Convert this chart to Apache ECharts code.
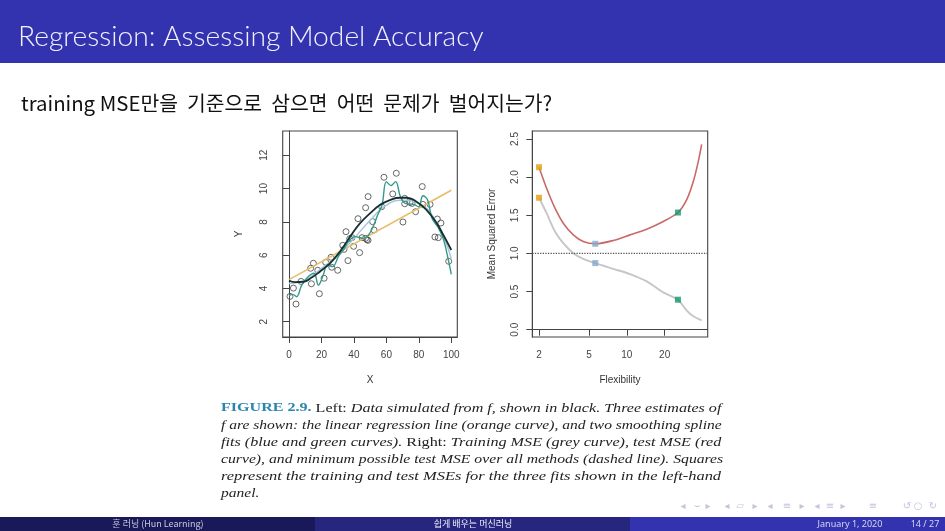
<!DOCTYPE html>
<html><head><meta charset="utf-8">
<style>html,body{margin:0;padding:0;background:#fff}
#plot,#chrome{position:absolute;left:0;top:0;width:945px;height:531px}
#plot{filter:blur(0.45px)}</style>
<script src="https://cdn.jsdelivr.net/npm/echarts@6/dist/echarts.min.js"></script>
</head><body><div id="plot"></div><div id="chrome"></div>
<script>
const titleText = 'Regression: Assessing Model Accuracy';
const subtitleText = 'training MSE만을  기준으로  삼으면  어떤  문제가  벌어지는가?';
const footerLeft = '훈 러닝 (Hun Learning)';
const footerMid = '쉽게 배우는 머신러닝';
const footerDate = 'January 1, 2020';
const footerPage = '14 / 27';
const leftXTicks = [0,20,40,60,80,100];
const leftYTicks = [2,4,6,8,10,12];
const rightXTicks = [2,5,10,20];
const rightYTicks = [0,0.5,1,1.5,2,2.5];
const points = [[0.6,3.52],[2.7,4.02],[4.3,3.06],[7.4,4.42],[13.8,4.28],[13.3,5.21],[15,5.51],[17.7,5.09],[18.7,3.68],[21.6,4.61],[22.6,5.57],[25.9,5.87],[26.3,5.27],[30,5.09],[33.1,6.59],[33.9,6.35],[35.1,7.41],[36.3,5.67],[37.4,6.99],[38.8,7.05],[39.8,6.53],[42.5,8.19],[43.5,6.15],[45,7.05],[47.2,7.01],[47.2,8.85],[48.7,9.52],[48,6.93],[48.7,6.89],[51.5,8.01],[52.4,7.51],[57.1,8.91],[58.5,10.68],[63.9,9.68],[66.1,10.92],[70.2,7.99],[71.3,9.41],[71.3,9.09],[74.5,9.17],[75.8,9.11],[78,8.61],[82.1,10.12],[82.5,9.05],[86.9,9.05],[89.9,7.09],[92,7.05],[91.4,8.17],[93.6,7.93],[98.4,5.63]];
const orangeLine = [[0,4.53],[100,9.9]];
const blueCurve = [[0,4.3],[10,4.5],[20,5.2],[30,6.0],[40,7.0],[50,8.1],[60,9.0],[70,9.3],[80,9.1],[90,8.1],[100,5.8]];
const blackCurve = [[0,4.48],[3.7,4.38],[8.8,4.4],[14,4.65],[19,5.01],[25.2,5.51],[31.4,6.21],[37.6,7.11],[43.7,7.91],[49.9,8.51],[56,9.01],[62.2,9.31],[68.4,9.45],[72.5,9.45],[78.6,9.21],[84.8,8.71],[91,7.91],[95.1,7.21],[100,6.31]];
const greenCurve = [[0,3.56],[2.3,3.64],[4.7,3.5],[7.8,4.2],[11.9,4.71],[15.4,4.91],[18.1,4.2],[21.1,4.81],[23.6,5.41],[26.9,5.31],[30.4,5.91],[33.5,6.31],[36.6,6.81],[40.7,7.11],[45.9,7.01],[49,7.21],[52.2,7.81],[54.6,8.41],[57.3,9.01],[60,10.42],[62.8,10.18],[65.7,10.42],[68.6,9.52],[71.7,9.11],[76.8,9.05],[79.9,8.91],[82.5,9.57],[85.4,9.31],[88.1,8.21],[92.2,7.61],[95.3,6.91],[98.4,5.61],[100,4.85]];
const testCurve = [[2,2.13],[2.3,1.854],[2.68,1.593],[3.12,1.396],[3.75,1.243],[4.5,1.156],[5.61,1.126],[7.8,1.169],[10.6,1.243],[14.4,1.318],[19.5,1.418],[25.5,1.536],[29.9,1.702],[33.8,1.942],[37,2.203],[39.4,2.43]];
const trainCurve = [[2,1.73],[2.3,1.527],[2.68,1.287],[3.12,1.134],[3.75,1.003],[4.5,0.929],[5.61,0.873],[7.8,0.798],[10.6,0.729],[14.4,0.633],[19.5,0.489],[25.5,0.393],[29.9,0.253],[33.8,0.175],[39.4,0.122]];
const minLine = [[1.769,1],[44,1]];
const orangeSquares = [[2,2.13],[2,1.73]];
const blueSquares = [[5.61,1.126],[5.61,0.873]];
const greenSquares = [[25.5,1.536],[25.5,0.393]];
const captionLines = [
 [['b','FIGURE 2.9.'],['r',' Left: '],['i','Data simulated from f, shown in black. Three estimates of']],
 [['i','f are shown: the linear regression line (orange curve), and two smoothing spline']],
 [['i','fits (blue and green curves). '],['r','Right: '],['i','Training MSE (grey curve), test MSE (red']],
 [['i','curve), and minimum possible test MSE over all methods (dashed line). Squares']],
 [['i','represent the training and test MSEs for the three fits shown in the left-hand']],
 [['i','panel.']]
];
const captionY = [408,425,442,459,476,493];
const captionStretch = [1.19,1.152,1.198,1.163,1.218,1.15];
const navGlyphs = ['◂','⌣','▸','◂','▱','▸','◂','≡','▸','◂','≡','▸','≡','↺','○','↻'];
const navX = [683,697,708,727,740,755,770,787,802,817,830,843,873,907,918,933];

const AXC='#444', TXT='#444';
function axisCommon(ticks,name,gap,extra){
  return Object.assign({
    name:name,nameLocation:'middle',nameGap:gap,
    nameTextStyle:{fontFamily:'Liberation Sans',fontSize:10,color:'#333'},
    axisLine:{show:true,lineStyle:{color:AXC,width:1}},
    axisTick:{show:true,length:6,customValues:ticks,lineStyle:{color:AXC,width:1}},
    axisLabel:{customValues:ticks,fontFamily:'Liberation Sans',fontSize:10,color:TXT,margin:13,hideOverlap:false,showMinLabel:true,showMaxLabel:true},
    splitLine:{show:false},minorTick:{show:false}
  },extra);
}
function ln(xi,data,color,width,smooth,z,type){
  return {type:'line',xAxisIndex:xi,yAxisIndex:xi,data:data,smooth:smooth,symbol:'none',z:z,silent:true,
    lineStyle:{color:color,width:width,type:type||'solid'}};
}
function sq(data,color){
  return {type:'scatter',xAxisIndex:1,yAxisIndex:1,data:data,symbol:'rect',symbolSize:6,z:6,silent:true,itemStyle:{color:color}};
}
const chromeEls=[
 {type:'rect',shape:{x:0,y:0,width:945,height:63},style:{fill:'#3333b0'}},
 {type:'rect',shape:{x:0,y:517,width:315,height:14},style:{fill:'#191959'}},
 {type:'rect',shape:{x:315,y:517,width:315,height:14},style:{fill:'#26267f'}},
 {type:'rect',shape:{x:630,y:517,width:315,height:14},style:{fill:'#3333b0'}},
 {type:'text',style:{x:18,y:37,text:titleText,font:'300 28.2px Lato',fill:'#f2f2ff',textVerticalAlign:'middle'}},
 {type:'text',style:{x:21,y:103,text:subtitleText,font:'20.4px "Noto Sans CJK KR"',fill:'#111',textVerticalAlign:'middle'}},
 {type:'text',style:{x:158,y:524,text:footerLeft,font:'9px "Noto Sans CJK KR"',fill:'#c8c8e0',textAlign:'center',textVerticalAlign:'middle'}},
 {type:'text',style:{x:473,y:524,text:footerMid,font:'9px "Noto Sans CJK KR"',fill:'#f0f0ff',textAlign:'center',textVerticalAlign:'middle'}},
 {type:'text',style:{x:850,y:524,text:footerDate,font:'9px "Noto Sans"',fill:'#d5d5ee',textAlign:'center',textVerticalAlign:'middle'}},
 {type:'text',style:{x:925,y:524,text:footerPage,font:'9px "Noto Sans"',fill:'#d5d5ee',textAlign:'center',textVerticalAlign:'middle'}}
];
navGlyphs.forEach((g,i)=>chromeEls.push({type:'text',style:{x:navX[i],y:506,text:g,font:'10px "DejaVu Sans"',fill:'#c4c4de',textAlign:'center',textVerticalAlign:'middle'}}));
const captionEls=captionLines.map((line,i)=>({type:'text',x:221,y:captionY[i],scaleX:captionStretch[i],
  style:{x:0,y:0,
    text:line.map(s=>'{'+s[0]+'|'+s[1]+'}').join(''),
    textVerticalAlign:'middle',
    rich:{
      b:{font:'bold 13.5px "Liberation Serif"',fill:'#2a86ad'},
      r:{font:'13.5px "Liberation Serif"',fill:'#222'},
      i:{font:'italic 13.5px "Liberation Serif"',fill:'#222'}
    }}}));
const chart=echarts.init(document.getElementById('plot'),null,{renderer:'canvas'});
chart.setOption({
  animation:false,backgroundColor:'#fff',
  grid:[
    {left:282.7,top:131,width:174.6,height:206,show:true,borderColor:AXC,borderWidth:1.1,backgroundColor:'transparent'},
    {left:532.3,top:131,width:175.4,height:206,show:true,borderColor:AXC,borderWidth:1.1,backgroundColor:'transparent'}
  ],
  xAxis:[
    axisCommon(leftXTicks,'X',38,{type:'value',gridIndex:0,min:-3.9,max:103.7}),
    axisCommon(rightXTicks,'Flexibility',38,{type:'log',gridIndex:1,min:1.769,max:44})
  ],
  yAxis:[
    axisCommon(leftYTicks,'Y',38,{type:'value',gridIndex:0,min:1.08,max:13.46,axisLabel:{customValues:leftYTicks,rotate:90,fontFamily:'Liberation Sans',fontSize:10,color:TXT,margin:13}}),
    axisCommon(rightYTicks,'Mean Squared Error',35,{type:'value',gridIndex:1,min:-0.096,max:2.605,axisLabel:{customValues:rightYTicks,rotate:90,fontFamily:'Liberation Sans',fontSize:10,color:TXT,margin:12,formatter:v=>v.toFixed(1)}})
  ],
  graphic:{elements:captionEls},
  series:[
    {type:'scatter',xAxisIndex:0,yAxisIndex:0,data:points,symbol:'circle',symbolSize:6,z:2,silent:true,itemStyle:{color:'rgba(0,0,0,0)',borderColor:'#444',borderWidth:1}},
    ln(0,orangeLine,'#e8bd6a',1.6,false,3),
    ln(0,blueCurve,'#a9c6de',1.5,true,3),
    ln(0,greenCurve,'#33998a',1.4,0.4,4),
    ln(0,blackCurve,'#16302f',1.8,true,5),
    ln(1,trainCurve,'#c6c6c6',1.9,0.3,3),
    ln(1,testCurve,'#c96a6a',1.6,0.3,3),
    ln(1,minLine,'#555',1.3,false,3,'dotted'),
    sq(orangeSquares,'#e0a012'),sq(blueSquares,'#82a9cb'),sq(greenSquares,'#129a6e')
  ]
});
const chrome=echarts.init(document.getElementById('chrome'),null,{renderer:'canvas'});
chrome.setOption({animation:false,backgroundColor:'transparent',graphic:{elements:chromeEls}});
</script></body></html>
